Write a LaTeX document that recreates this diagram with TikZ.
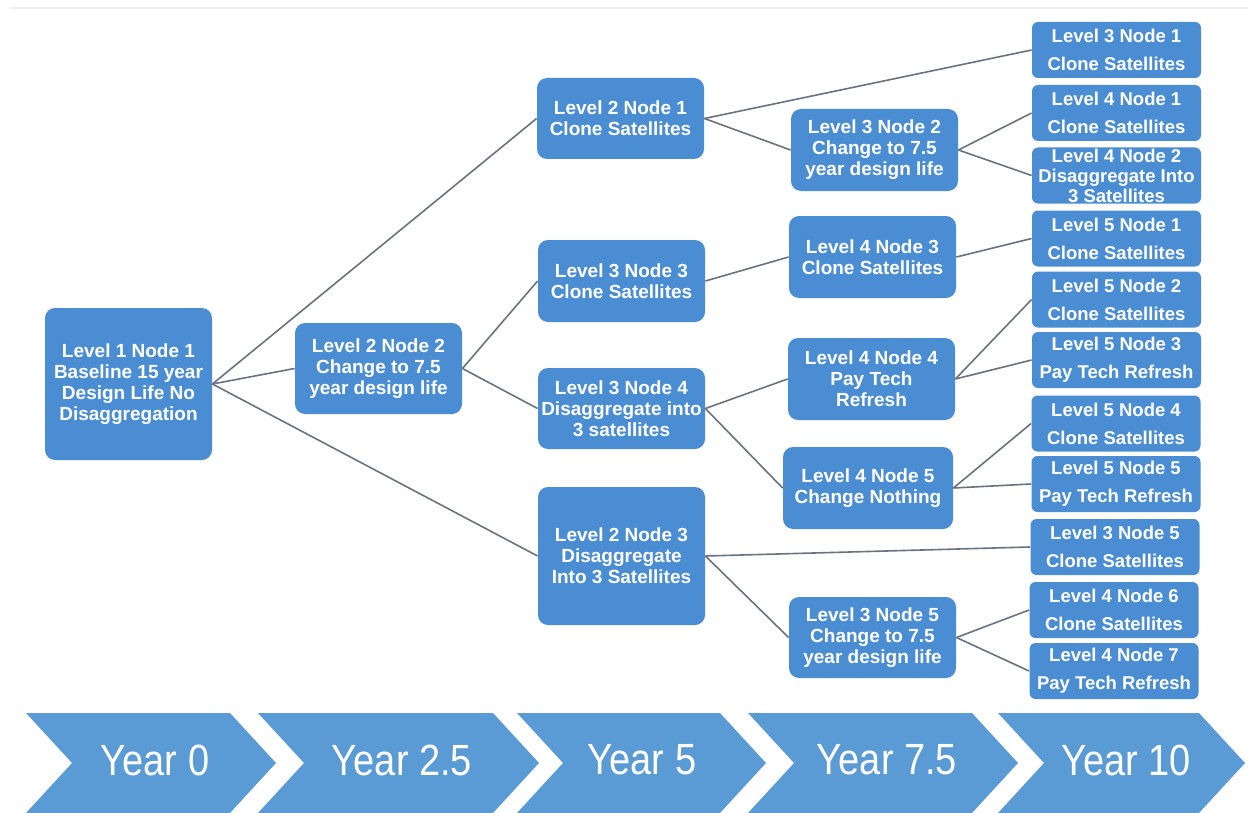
\documentclass[tikz,border=0pt]{standalone}
\usepackage{fontspec}
\setmainfont{Liberation Sans}
\usepackage{graphicx}
\definecolor{nodeblue}{RGB}{74, 141, 211}
\definecolor{chevblue}{RGB}{91, 155, 213}
\definecolor{linegray}{RGB}{105, 114, 128}

\begin{document}
\begin{tikzpicture}[x=0.5pt, y=-0.5pt,
    box/.style={fill=nodeblue, rounded corners=5pt, text=white, align=center, inner sep=0pt,
        minimum width=83.5pt, font=\fontsize{9.5}{10.5}\selectfont\bfseries},
    leaf/.style={fill=nodeblue, rounded corners=3pt, text=white, align=center, inner sep=0pt,
        minimum width=84.5pt, minimum height=28pt, font=\fontsize{9.25}{14}\selectfont\bfseries},
    link/.style={draw=linegray, line width=0.8pt},
    yr/.style={text=white, inner sep=0pt, font=\fontsize{19}{22}\selectfont}]
    \useasboundingbox (0,0) rectangle (1248,813);
    \draw[black!6, line width=1pt] (10,8) -- (1248,8);

    % Level 1 and 2
    \node[box, minimum height=76pt] (l1n1) at (128.5,384) {Level 1 Node 1\\Baseline 15 year\\Design Life No\\Disaggregation};
    \node[box, minimum height=45.5pt] (l2n2) at (378.5,368.5) {Level 2 Node 2\\Change to 7.5\\year design life};
    \node[box, minimum height=40.5pt] (l2n1) at (620.5,118.5) {Level 2 Node 1\\Clone Satellites};
    \node[box, minimum height=41pt] (l3n3) at (621.5,281) {Level 3 Node 3\\Clone Satellites};
    \node[box, minimum height=40.5pt] (l3n4) at (621.5,408.5) {Level 3 Node 4\\Disaggregate into\\3 satellites};
    \node[box, minimum height=69pt] (l2n3) at (621.5,556) {Level 2 Node 3\\Disaggregate\\Into 3 Satellites};

    % Middle column
    \node[box, minimum height=41pt] (l3n2) at (874.5,150) {Level 3 Node 2\\Change to 7.5\\year design life};
    \node[box, minimum height=41pt] (l4n3) at (872.5,257) {Level 4 Node 3\\Clone Satellites};
    \node[box, minimum height=41pt] (l4n4) at (871.5,379) {Level 4 Node 4\\Pay Tech\\Refresh};
    \node[box, minimum height=41pt, minimum width=85pt] (l4n5) at (868,488) {Level 4 Node 5\\Change Nothing};
    \node[box, minimum height=40.5pt] (l3n5) at (872.5,637.5) {Level 3 Node 5\\Change to 7.5\\year design life};

    % Leaves
    \node[leaf] (l3n1) at (1116.5,50) {Level 3 Node 1\\Clone Satellites};
    \node[leaf] (l4n1) at (1116.5,113) {Level 4 Node 1\\Clone Satellites};
    \node[leaf, font=\fontsize{9.25}{10}\selectfont\bfseries] (l4n2) at (1116.5,175.5) {Level 4 Node 2\\Disaggregate Into\\3 Satellites};
    \node[leaf] (l5n1) at (1116.5,238.5) {Level 5 Node 1\\Clone Satellites};
    \node[leaf] (l5n2) at (1116.5,299.5) {Level 5 Node 2\\Clone Satellites};
    \node[leaf] (l5n3) at (1116.5,360) {Level 5 Node 3\\Pay Tech Refresh};
    \node[leaf] (l5n4) at (1116,423.5) {Level 5 Node 4\\Clone Satellites};
    \node[leaf] (l5n5) at (1116,484) {Level 5 Node 5\\Pay Tech Refresh};
    \node[leaf] (l3n5c) at (1115,547) {Level 3 Node 5\\Clone Satellites};
    \node[leaf] (l4n6) at (1114,610) {Level 4 Node 6\\Clone Satellites};
    \node[leaf] (l4n7) at (1114,671) {Level 4 Node 7\\Pay Tech Refresh};

    % Connectors
    \foreach \a/\b in {l1n1/l2n1, l1n1/l2n2, l1n1/l2n3, l2n1/l3n1, l2n1/l3n2, l3n2/l4n1, l3n2/l4n2,
        l2n2/l3n3, l2n2/l3n4, l3n3/l4n3, l4n3/l5n1, l3n4/l4n4, l3n4/l4n5, l4n4/l5n2, l4n4/l5n3,
        l4n5/l5n4, l4n5/l5n5, l2n3/l3n5c, l2n3/l3n5, l3n5/l4n6, l3n5/l4n7}
        \draw[link] (\a.east) -- (\b.west);

    % Timeline chevrons
    \foreach \tl/\tr/\tx/\lab/\nm in {26/230/155/Year 0/yr0, 258/493/402/Year 2.5/yr1, 517/720/642/Year 5/yr2,
        748/972/887/Year 7.5/yr3, 998/1199/1126/Year 10/yr4}
    {
        \fill[chevblue] (\tl,713) -- (\tr,713) -- ++(46,50) -- ++(-46,50) -- (\tl,813) -- ++(46,-50) -- cycle;
        \node[yr] (\nm) at (\tx,760) {\scalebox{1}[1.15]{\lab}};
    }
\end{tikzpicture}
\end{document}
